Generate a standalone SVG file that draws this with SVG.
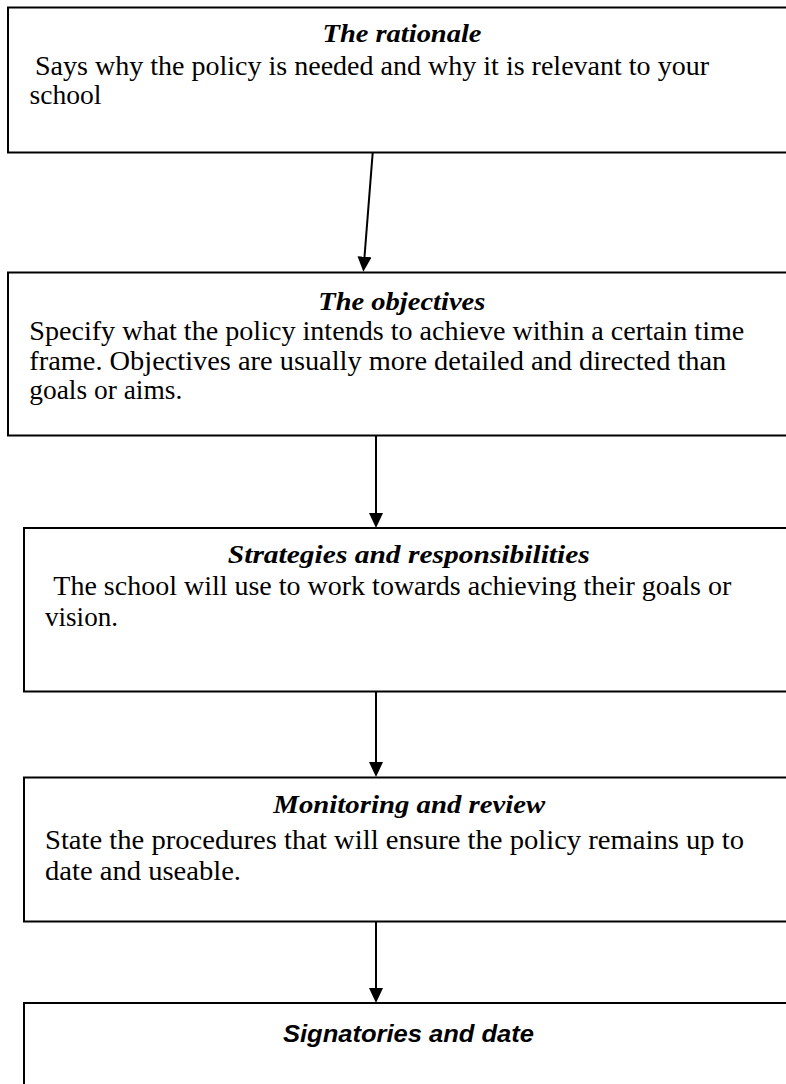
<svg xmlns="http://www.w3.org/2000/svg" width="786" height="1084" viewBox="0 0 786 1084">
  <style>
    .box { fill: #ffffff; stroke: #000000; stroke-width: 2; }
    .title { font-family: "Liberation Serif", "Times New Roman", serif; font-weight: bold; font-style: italic; font-size: 26px; fill: #000000; }
    .title-sans { font-family: "Liberation Sans", Arial, sans-serif; font-weight: bold; font-style: italic; font-size: 24px; fill: #000000; }
    .body { font-family: "Liberation Serif", "Times New Roman", serif; font-size: 27px; fill: #000000; }
    .conn { stroke: #000000; stroke-width: 2; fill: none; marker-end: url(#arrow); }
  </style>
  <defs>
    <marker id="arrow" markerUnits="userSpaceOnUse" markerWidth="16" markerHeight="16" refX="9" refY="7" orient="auto">
      <path d="M0,0 L15,7 L0,14 Z" fill="#000000"/>
    </marker>
  </defs>

  <rect width="786" height="1084" fill="#ffffff"/>

  <!-- Policy outline: five stacked boxes -->
  <g id="rationale">
    <rect class="box" x="8" y="7.5" width="800" height="145"/>
    <text class="title" x="402" y="41.5" text-anchor="middle" textLength="159" lengthAdjust="spacingAndGlyphs">The rationale</text>
    <text class="body" x="35" y="75" textLength="674" lengthAdjust="spacingAndGlyphs">Says why the policy is needed and why it is relevant to your</text>
    <text class="body" x="29.5" y="104" textLength="72" lengthAdjust="spacingAndGlyphs">school</text>
  </g>

  <g id="objectives">
    <rect class="box" x="8" y="272.5" width="800" height="163"/>
    <text class="title" x="401.8" y="309.5" text-anchor="middle" textLength="167" lengthAdjust="spacingAndGlyphs">The objectives</text>
    <text class="body" x="29.3" y="340" textLength="715" lengthAdjust="spacingAndGlyphs">Specify what the policy intends to achieve within a certain time</text>
    <text class="body" x="29.3" y="370" textLength="697" lengthAdjust="spacingAndGlyphs">frame. Objectives are usually more detailed and directed than</text>
    <text class="body" x="29.3" y="398.5" textLength="153" lengthAdjust="spacingAndGlyphs">goals or aims.</text>
  </g>

  <g id="strategies">
    <rect class="box" x="24" y="528" width="800" height="163.5"/>
    <text class="title" x="408.8" y="563.3" text-anchor="middle" textLength="362" lengthAdjust="spacingAndGlyphs">Strategies and responsibilities</text>
    <text class="body" x="53.3" y="595" textLength="678" lengthAdjust="spacingAndGlyphs">The school will use to work towards achieving their goals or</text>
    <text class="body" x="45" y="626" textLength="73" lengthAdjust="spacingAndGlyphs">vision.</text>
  </g>

  <g id="monitoring">
    <rect class="box" x="24" y="777.5" width="800" height="144"/>
    <text class="title" x="409.3" y="813.3" text-anchor="middle" textLength="272" lengthAdjust="spacingAndGlyphs">Monitoring and review</text>
    <text class="body" x="45" y="849.3" textLength="699" lengthAdjust="spacingAndGlyphs">State the procedures that will ensure the policy remains up to</text>
    <text class="body" x="45" y="880" textLength="196" lengthAdjust="spacingAndGlyphs">date and useable.</text>
  </g>

  <g id="signatories">
    <rect class="box" x="24" y="1003" width="800" height="120"/>
    <text class="title-sans" x="408.5" y="1041.7" text-anchor="middle" textLength="251" lengthAdjust="spacingAndGlyphs">Signatories and date</text>
  </g>

  <!-- Downward flow arrows between boxes -->
  <g id="connectors">
    <line class="conn" x1="372.7" y1="152.7" x2="363.8" y2="265.7"/>
    <line class="conn" x1="376" y1="436" x2="376" y2="522"/>
    <line class="conn" x1="376" y1="692" x2="376" y2="771"/>
    <line class="conn" x1="376" y1="922" x2="376" y2="997"/>
  </g>
</svg>
